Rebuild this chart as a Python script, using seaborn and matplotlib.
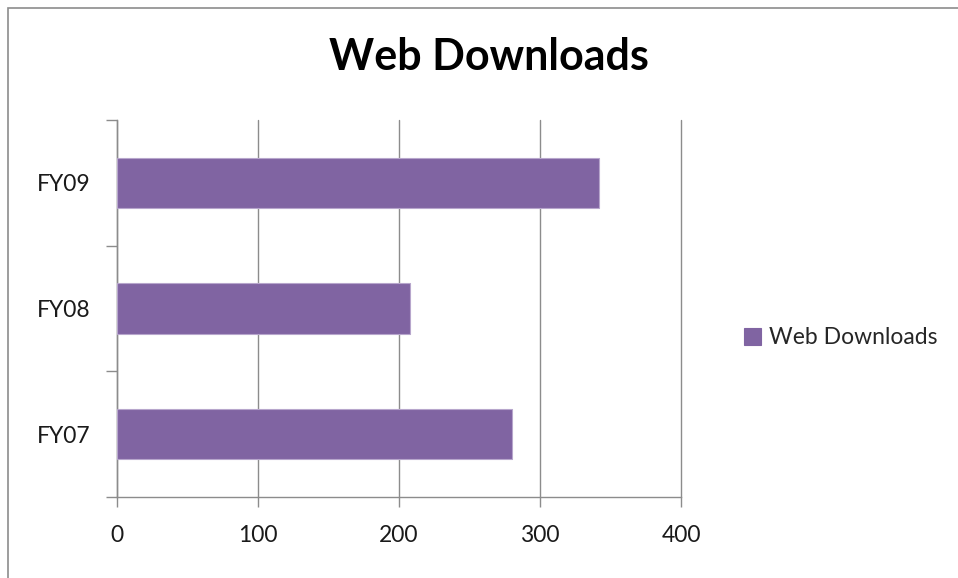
import pandas as pd
import matplotlib
matplotlib.use("Agg")
from matplotlib import pyplot
from matplotlib.patches import Rectangle
import seaborn as sns

# values
years = ["FY09", "FY08", "FY07"]
downloads = [342, 208, 280]
series_name = "Web Downloads"
x_ticks = [0, 100, 200, 300, 400]

df = pd.DataFrame({"year": years, "downloads": downloads})

sns.set_theme(style="white")
pyplot.rcParams["font.family"] = ["Lato", "DejaVu Sans"]

W, H = 958, 578
fig = pyplot.figure(figsize=(W / 100, H / 100), dpi=100)
fig.patch.set_facecolor("white")

# chart frame (Excel chart area border)
fig.patches.append(Rectangle((8 / W, -0.05), 1.1, (H - 8) / H + 0.05,
                             transform=fig.transFigure, fill=False,
                             edgecolor="#8c8c8c", linewidth=1.2, zorder=0))

ax = fig.add_axes([116.5 / W, 81 / H, (681 - 116.5) / W, (497 - 120) / H])

sns.barplot(data=df, x="downloads", y="year", order=years, orient="h",
            color="#8064A2", saturation=1, width=0.4, label=series_name,
            edgecolor="#b7a6cc", linewidth=0.8, ax=ax, zorder=3)

ax.set_xlim(0, 400)
ax.set_ylim(2.5, -0.5)
ax.set_xticks(x_ticks)
ax.set_xticklabels([str(v) for v in x_ticks], fontsize=16.5, color="#1a1a1a")
ax.set_yticks([-0.5, 0.5, 1.5, 2.5])
ax.set_yticklabels([])
ax.set_yticks([0, 1, 2], minor=True)
ax.set_yticklabels(years, minor=True, fontsize=16.5, color="#1a1a1a")
ax.tick_params(axis="y", which="minor", length=0, pad=19)
ax.tick_params(axis="y", which="major", length=8, width=1, color="#8c8c8c", left=True)
ax.tick_params(axis="x", which="major", length=7, width=1, color="#8c8c8c",
               bottom=True, pad=13)
ax.set_xlabel("")
ax.set_ylabel("")

ax.grid(axis="x", color="#8c8c8c", linewidth=1, zorder=0)
ax.grid(axis="y", visible=False)
for gl in ax.get_xgridlines():
    gl.set_clip_on(False)
for side in ["top", "right"]:
    ax.spines[side].set_visible(False)
for side in ["left", "bottom"]:
    ax.spines[side].set_color("#8c8c8c")
    ax.spines[side].set_linewidth(1)

fig.text(488.5 / W, 1 - 70 / H, "Web Downloads", ha="center", va="baseline",
         fontsize=31, fontweight="bold", color="black")

leg = ax.legend(loc="center left", bbox_to_anchor=(733 / W, 1 - 338 / H),
                bbox_transform=fig.transFigure, frameon=False, fontsize=16.5,
                handlelength=0.7, handleheight=0.7, handletextpad=0.35,
                borderpad=0)
for h in leg.legend_handles:
    h.set_edgecolor("#8064A2")

fig.savefig("out.png", dpi=100)
